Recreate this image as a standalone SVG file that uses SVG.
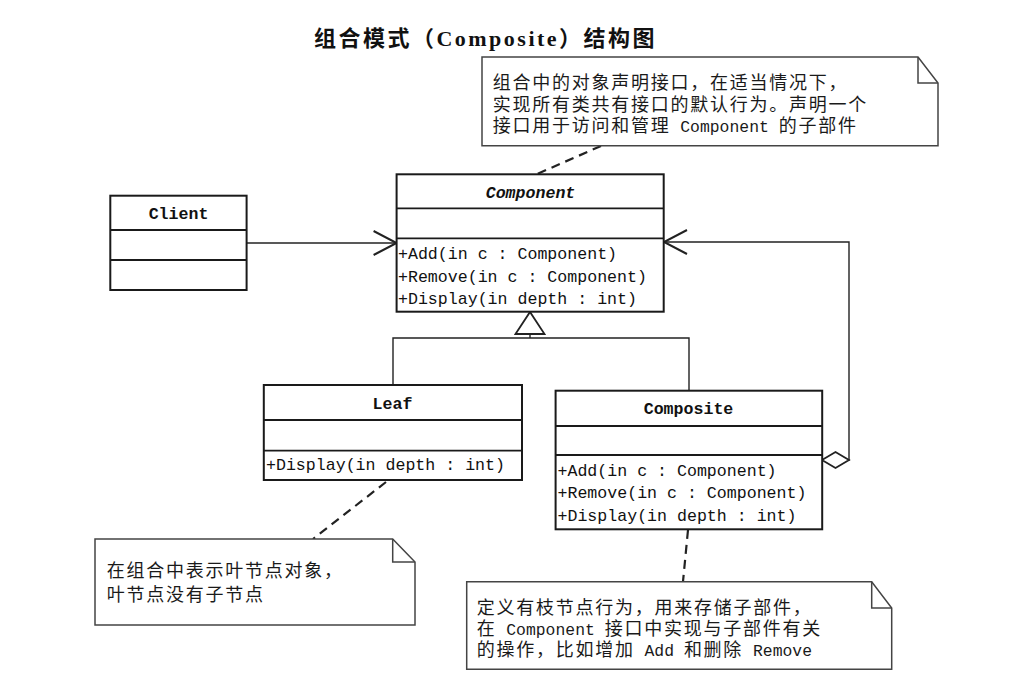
<svg xmlns="http://www.w3.org/2000/svg" width="1019" height="691" viewBox="0 0 1019 691">
<style>
.box{fill:#fff;stroke:#1a1a1a;stroke-width:2}
.dv{stroke:#1a1a1a;stroke-width:1.8}
.cls{font-family:"Liberation Mono",monospace;font-size:16.6px;fill:#111}
.name{font-weight:bold;text-anchor:middle}
.note{fill:#fff;stroke:#444;stroke-width:1.5}
.fold{fill:none;stroke:#444;stroke-width:1.5}
.nt{font-family:"Noto Sans CJK SC",sans-serif;font-size:18px;letter-spacing:1.75px;fill:#1a1a1a}
.lat{font-family:"Liberation Mono",monospace;font-size:16.4px;letter-spacing:0}
.conn{fill:none;stroke:#222;stroke-width:1.4}
.dash{fill:none;stroke:#222;stroke-width:2.2;stroke-dasharray:9 6}
</style>
<defs>
<marker id="open" markerUnits="userSpaceOnUse" markerWidth="25" markerHeight="25" refX="23" refY="12" orient="auto" overflow="visible">
<path d="M0,0 L23,12 L0,24" fill="none" stroke="#222" stroke-width="2"/>
</marker>
<marker id="tri" markerUnits="userSpaceOnUse" markerWidth="24" markerHeight="30" refX="22" refY="14.5" orient="auto" overflow="visible">
<path d="M0,0 L22,14.5 L0,29 Z" fill="#fff" stroke="#222" stroke-width="1.8"/>
</marker>
<marker id="dia" markerUnits="userSpaceOnUse" markerWidth="28" markerHeight="17" refX="0" refY="8" orient="auto" overflow="visible">
<path d="M0,8 L13.5,0 L27,8 L13.5,16 Z" fill="#fff" stroke="#222" stroke-width="1.8"/>
</marker>
</defs>
<rect width="1019" height="691" fill="#fff"/>
<text x="485.5" y="46" text-anchor="middle" font-family="Noto Sans CJK SC, sans-serif" font-weight="bold" font-size="22" letter-spacing="2.5" fill="#111">组合模式（<tspan font-family="Liberation Serif, serif">Composite</tspan>）结构图</text>

<g id="connectors">
<path class="conn" d="M246.6,243 L396.6,243" marker-end="url(#open)"/>
<path class="conn" d="M822,460 L849,460 L849,242 L664,242" marker-start="url(#dia)" marker-end="url(#open)"/>
<path class="conn" d="M393,385 V338 H689 V390.7"/>
<path class="conn" d="M530,338 V312" marker-end="url(#tri)"/>
<path class="dash" d="M601,146 L537,174"/>
<path class="dash" d="M386,482 L313,539"/>
<path class="dash" d="M688,530 L683,581.5"/>
</g>

<g id="client">
<rect class="box" x="110.3" y="195.7" width="136.3" height="94.3"/>
<line class="dv" x1="110.3" y1="230" x2="246.6" y2="230"/>
<line class="dv" x1="110.3" y1="260" x2="246.6" y2="260"/>
<text class="cls name" x="178.5" y="219">Client</text>
</g>

<g id="component">
<rect class="box" x="396.6" y="174.3" width="267.1" height="137.4"/>
<line class="dv" x1="396.6" y1="208.3" x2="663.7" y2="208.3"/>
<line class="dv" x1="396.6" y1="238.3" x2="663.7" y2="238.3"/>
<text class="cls name" x="530.5" y="197.5" font-style="italic">Component</text>
<text class="cls" x="398" y="259">+Add(in c : Component)</text>
<text class="cls" x="398" y="281.5">+Remove(in c : Component)</text>
<text class="cls" x="398" y="304">+Display(in depth : int)</text>
</g>

<g id="leaf">
<rect class="box" x="263.8" y="385" width="258.2" height="95"/>
<line class="dv" x1="263.8" y1="420" x2="522" y2="420"/>
<line class="dv" x1="263.8" y1="450.7" x2="522" y2="450.7"/>
<text class="cls name" x="392.5" y="409">Leaf</text>
<text class="cls" x="266" y="469.5">+Display(in depth : int)</text>
</g>

<g id="composite">
<rect class="box" x="555.6" y="390.7" width="266.6" height="138.6"/>
<line class="dv" x1="555.6" y1="426" x2="822.2" y2="426"/>
<line class="dv" x1="555.6" y1="455" x2="822.2" y2="455"/>
<text class="cls name" x="688.5" y="414">Composite</text>
<text class="cls" x="557.5" y="475.5">+Add(in c : Component)</text>
<text class="cls" x="557.5" y="498">+Remove(in c : Component)</text>
<text class="cls" x="557.5" y="520.5">+Display(in depth : int)</text>
</g>

<g id="note-component">
<path class="note" d="M482,57 H918 L938,83 V145.7 H482 Z"/>
<path class="fold" d="M918,57 V83 H938"/>
<text class="nt" x="492.7" y="89">组合中的对象声明接口，在适当情况下，</text>
<text class="nt" x="492.7" y="111">实现所有类共有接口的默认行为。声明一个</text>
<text class="nt" x="492.7" y="132">接口用于访问和管理<tspan class="lat"> Component </tspan>的子部件</text>
</g>

<g id="note-leaf">
<path class="note" d="M95,539 H392.7 L415,562 V625 H95 Z"/>
<path class="fold" d="M392.7,539 V562 H415"/>
<text class="nt" x="106.7" y="577">在组合中表示叶节点对象，</text>
<text class="nt" x="106.7" y="601">叶节点没有子节点</text>
</g>

<g id="note-composite">
<path class="note" d="M466.7,581.7 H871.7 L891.7,608 V669.3 H466.7 Z"/>
<path class="fold" d="M871.7,581.7 V608 H891.7"/>
<text class="nt" x="476.7" y="614">定义有枝节点行为，用来存储子部件，</text>
<text class="nt" x="476.7" y="635">在<tspan class="lat"> Component </tspan>接口中实现与子部件有关</text>
<text class="nt" x="476.7" y="656">的操作，比如增加<tspan class="lat"> Add </tspan>和删除<tspan class="lat"> Remove</tspan></text>
</g>
</svg>
